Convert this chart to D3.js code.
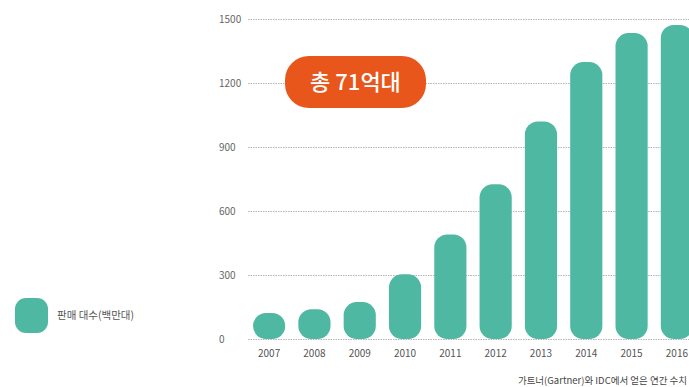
<!DOCTYPE html>
<html><head><meta charset="utf-8">
<script src="https://cdn.jsdelivr.net/npm/d3@7"></script>
<style>body{margin:0;background:#fff;overflow:hidden}svg{display:block;font-family:"Noto Sans CJK KR","Noto Sans",sans-serif}</style>
</head><body>
<svg id="c" width="689" height="387"></svg>
<script>
const years = ["2007","2008","2009","2010","2011","2012","2013","2014","2015","2016"];
const sales = [122, 140, 173, 303, 490, 725, 1020, 1298, 1434, 1472];
const yTicks = [0, 300, 600, 900, 1200, 1500];
const legendLabel = "판매 대수(백만대)";
const badgeLabel = "총 71억대";
const sourceLabel = "가트너(Gartner)와 IDC에서 얻은 연간 수치";

const svg = d3.select("#c");
const teal = "#4fb8a2", orange = "#e8561c";
const y = d3.scaleLinear().domain([0, 1500]).range([339, 19]);
const x = d3.scaleBand().domain(years).range([248.5, 697.5]).paddingInner(0.29).paddingOuter(0.1);

// gridlines
svg.append("g").selectAll("line").data(yTicks).join("line")
  .attr("x1", 248).attr("x2", 689)
  .attr("y1", d => y(d) + 0.5).attr("y2", d => y(d) + 0.5)
  .attr("stroke", "#b5b5b5").attr("stroke-width", 1).attr("stroke-dasharray", "1.5,1");

// y tick labels
svg.append("g").selectAll("text").data(yTicks).join("text")
  .attr("x", 219).attr("y", d => y(d)).attr("dy", "0.35em")
  .attr("font-size", 10).attr("fill", "#666").text(d => d);

// bars
svg.append("g").selectAll("rect").data(years).join("rect")
  .attr("x", d => x(d)).attr("width", x.bandwidth())
  .attr("y", (d, i) => y(sales[i])).attr("height", (d, i) => y(0) - y(sales[i]))
  .attr("rx", 13).attr("ry", 13).attr("fill", teal);

// x labels
svg.append("g").selectAll("text").data(years).join("text")
  .attr("x", d => x(d) + x.bandwidth() / 2).attr("y", 353).attr("dy", "0.35em")
  .attr("text-anchor", "middle").attr("font-size", 10).attr("fill", "#555").text(d => d);

// badge
svg.append("rect").attr("x", 285).attr("y", 56).attr("width", 141).attr("height", 52)
  .attr("rx", 24).attr("fill", orange);
svg.append("text").attr("x", 355.5).attr("y", 82).attr("dy", "0.36em")
  .attr("text-anchor", "middle").attr("font-size", 22).attr("font-weight", 500)
  .attr("fill", "#fff").text(badgeLabel);

// legend
svg.append("rect").attr("x", 15).attr("y", 298).attr("width", 33).attr("height", 35)
  .attr("rx", 11).attr("fill", teal);
svg.append("text").attr("x", 57).attr("y", 315).attr("dy", "0.35em")
  .attr("font-size", 10.5).attr("fill", "#555").text(legendLabel);

// source
svg.append("text").attr("x", 687).attr("y", 381).attr("dy", "0.35em")
  .attr("text-anchor", "end")
  .attr("font-size", 9.5).attr("fill", "#444").text(sourceLabel);
</script>
</body></html>
